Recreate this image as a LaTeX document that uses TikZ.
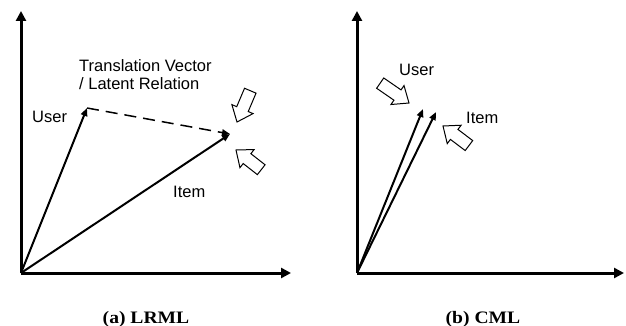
\documentclass[tikz,border=0pt]{standalone}
\usepackage{fontspec}
\setmainfont{Liberation Serif}
\setsansfont{Liberation Sans}
\newfontfamily\capfont{Liberation Serif}[FakeStretch=1.12]
\usetikzlibrary{arrows.meta}
\tikzset{
  axis/.style={line width=3pt,-{Triangle[length=10pt,width=10pt]}},
  vec/.style={line width=2pt,-{Triangle[length=8pt,width=6.5pt]}},
  relvec/.style={line width=1.5pt,dash pattern=on 12pt off 7pt,-{Triangle[length=8pt,width=6.5pt]}},
  lbl/.style={font=\sffamily\fontsize{16.5}{19}\selectfont,anchor=base west,inner sep=0pt},
  captxt/.style={font=\capfont\bfseries\fontsize{17.5}{21}\selectfont,anchor=base,inner sep=0pt},
  hollow/.style={draw=black,fill=white,line width=1pt,line join=miter}
}
\newcommand{\hollowarrow}[3]{% tip, angle, length
  \begin{scope}[shift={#1},rotate=#2]
    \draw[hollow] (0,0) -- (-14,11.5) -- (-14,6.25) -- (-#3,6.25) -- (-#3,-6.25) -- (-14,-6.25) -- (-14,-11.5) -- cycle;
  \end{scope}}
\begin{document}
\begin{tikzpicture}[x=1pt,y=-1pt]
\useasboundingbox (0,0) rectangle (626,326);
% left panel
\coordinate (O1) at (21,273);
\coordinate (Y1) at (21,11);
\coordinate (X1) at (291,273);
\coordinate (U1) at (87,108);
\coordinate (I1) at (230,134);
\draw[axis] (O1) -- (Y1);
\draw[axis] (O1) -- (X1);
\draw[vec] (O1) -- (U1);
\draw[vec] (O1) -- (I1);
\draw[relvec] (U1) -- (I1);
\node[lbl] (trans) at (79,72) {Translation Vector};
\node[lbl] (lat) at (79,90) {/ Latent Relation};
\node[lbl] (user1) at (32,123) {User};
\node[lbl] (item1) at (173,197) {Item};
\hollowarrow{(237,122)}{247}{34}
\hollowarrow{(236,150)}{142}{32}
\node[captxt] (capa) at (146,323) {(a) LRML};
% right panel
\coordinate (O2) at (357,273);
\coordinate (Y2) at (357,11);
\coordinate (X2) at (624,273);
\coordinate (U2) at (423,109);
\coordinate (I2) at (436,112);
\draw[axis] (O2) -- (Y2);
\draw[axis] (O2) -- (X2);
\draw[vec] (O2) -- (U2);
\draw[vec] (O2) -- (I2);
\node[lbl] (user2) at (399,76) {User};
\node[lbl] (item2) at (466,124) {Item};
\hollowarrow{(409,103)}{-34.6}{35}
\hollowarrow{(443,126)}{143}{32.5}
\node[captxt] (capb) at (483,323) {(b) CML};
\end{tikzpicture}
\end{document}
